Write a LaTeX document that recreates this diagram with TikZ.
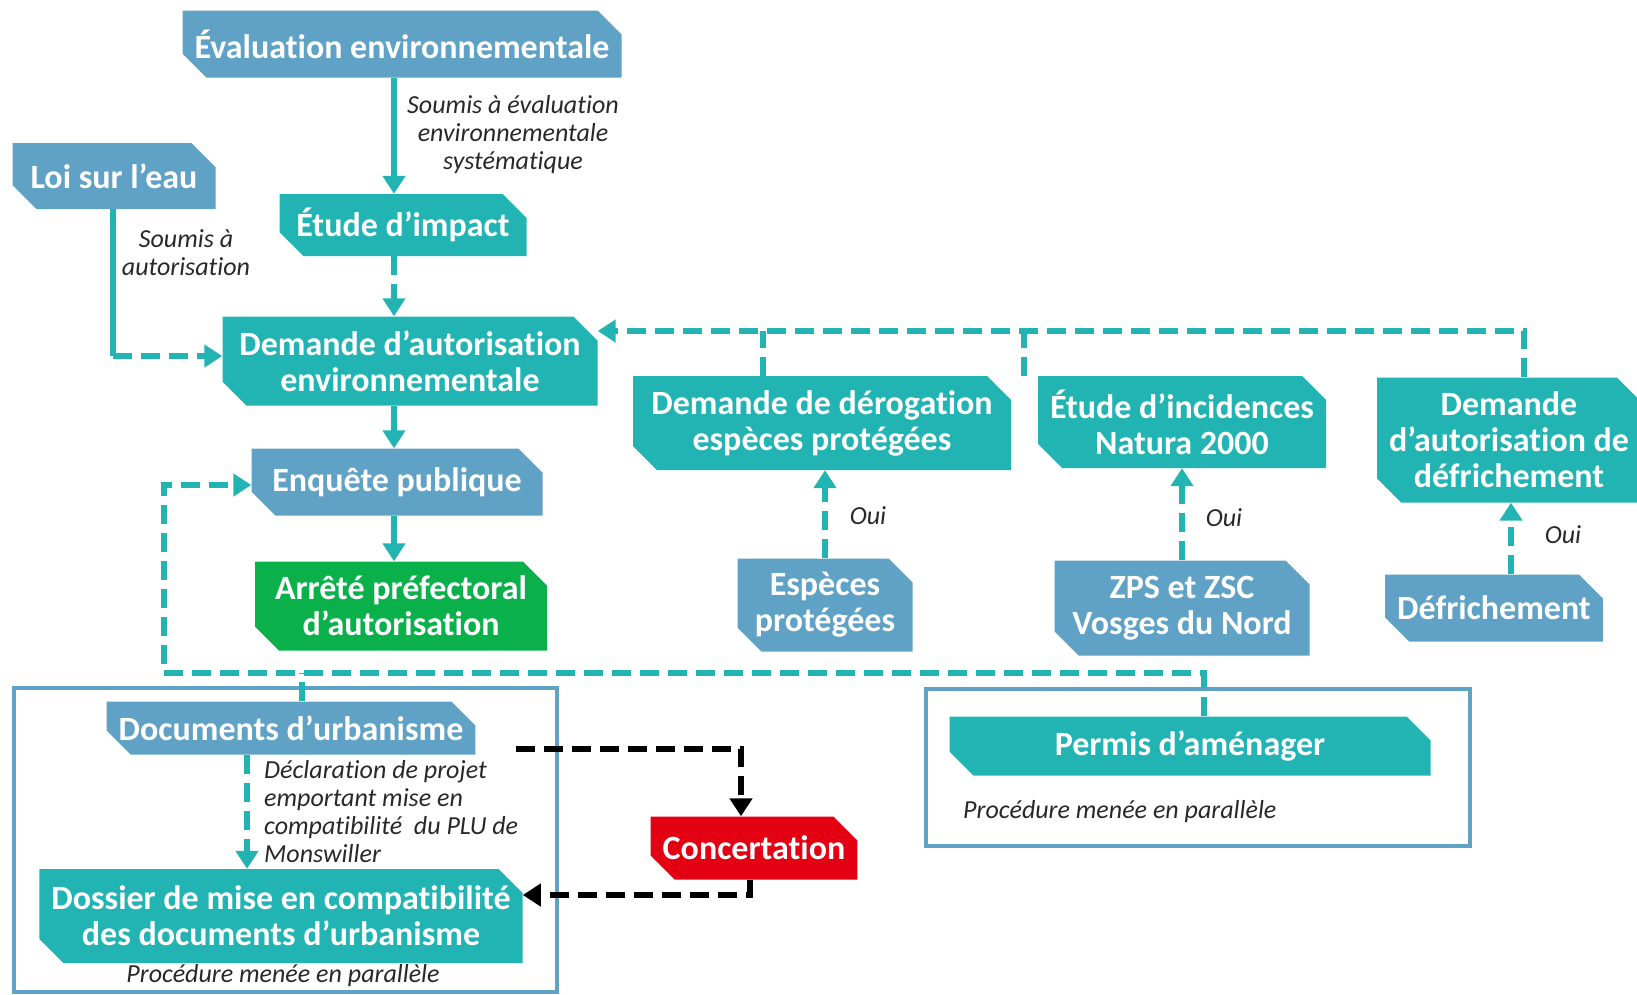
\documentclass[tikz,border=0pt]{standalone}
\usepackage{fontspec}
\setmainfont{Carlito}[Ligatures={NoCommon}]
\usetikzlibrary{shapes.misc,arrows.meta}
\definecolor{bleu}{RGB}{96,161,198}
\definecolor{sarcelle}{RGB}{34,179,179}
\definecolor{vert}{RGB}{10,176,74}
\definecolor{rouge}{RGB}{226,0,18}
\definecolor{texte}{RGB}{40,40,40}
\begin{document}
\begin{tikzpicture}[x=1pt,y=-1pt,
  box/.style={chamfered rectangle,chamfered rectangle corners={north east,south west},
    chamfered rectangle sep=12pt,inner sep=0pt,text=white,align=center,
    font={\fontsize{34}{36}\selectfont\bfseries}},
  bleubox/.style={box,fill=bleu},
  tealbox/.style={box,fill=sarcelle},
  lab/.style={font={\fontsize{26}{28}\selectfont\itshape},text=texte,align=center,inner sep=0pt},
  tealline/.style={draw=sarcelle,line width=6pt},
  dashline/.style={tealline,dash pattern=on 19pt off 9pt},
  blackdash/.style={draw=black,line width=6pt,dash pattern=on 19pt off 9pt},
  tip/.style={-{Triangle[width=22pt,length=18pt]}},
  frame/.style={draw=bleu,line width=3.5pt}]
\useasboundingbox (0,0) rectangle (1637,994);
% cadres des procedures paralleles
\draw[frame] (14,688) rectangle (557,992);
\draw[frame] (926,689) rectangle (1470,846);
% boites
\node[bleubox,minimum width=439,minimum height=67] (eval) at (402,44) {Évaluation environnementale};
\node[bleubox,minimum width=203,minimum height=66] (loi) at (114,176) {Loi sur l’eau};
\node[tealbox,minimum width=247,minimum height=62] (etude) at (403,225) {Étude d’impact};
\node[tealbox,minimum width=375,minimum height=89] (dae) at (410,361) {Demande d’autorisation\\environnementale};
\node[bleubox,minimum width=291,minimum height=67] (enq) at (397,482) {Enquête publique};
\node[box,fill=vert,minimum width=292,minimum height=89] (arrete) at (401,606) {Arrêté préfectoral\\d’autorisation};
\node[tealbox,minimum width=378,minimum height=94] (derog) at (822,423) {Demande de dérogation\\espèces protégées};
\node[tealbox,minimum width=288,minimum height=92] (natura) at (1182,422) {Étude d’incidences\\Natura 2000};
\node[tealbox,minimum width=260,minimum height=125] (defdem) at (1509,440) {Demande\\d’autorisation de\\défrichement};
\node[bleubox,minimum width=175,minimum height=93] (esp) at (825,605) {Espèces\\protégées};
\node[bleubox,minimum width=255,minimum height=95] (zps) at (1182,608) {ZPS et ZSC\\Vosges du Nord};
\node[bleubox,minimum width=199,minimum height=67] (defr) at (1494,608) {Défrichement};
\node[bleubox,minimum width=365,minimum height=53] (docs) at (291,728) {Documents d’urbanisme};
\node[tealbox,minimum width=482,minimum height=94] (dossier) at (281,916) {Dossier de mise en compatibilité\\des documents d’urbanisme};
\node[box,fill=rouge,minimum width=200,minimum height=63] (conc) at (754,848) {Concertation};
\node[tealbox,minimum width=481,minimum height=59] (permis) at (1190,746) {Permis d’aménager};
% textes
\node[lab] (lsoumis) at (513,135) {Soumis à évaluation\\environnementale\\systématique};
\node[lab] (lauto) at (186,253) {Soumis à\\autorisation};
\node[lab] (oui1) at (868,516) {Oui};
\node[lab] (oui2) at (1224,518) {Oui};
\node[lab] (oui3) at (1563,535) {Oui};
\node[lab,anchor=west,align=left] (ldecl) at (264,812) {Déclaration de projet\\emportant mise en\\compatibilité~ du PLU de\\Monswiller};
\node[lab] (lpar1) at (283,976) {Procédure menée en parallèle};
\node[lab,anchor=west] (lpar2) at (963,812) {Procédure menée en parallèle};
% liaisons
\coordinate (col) at (394,0);
\coordinate (haut) at (0,331);
\coordinate (bas) at (164,673);
\coordinate (loic) at (113,356);
\draw[tealline,tip] (eval.south -| col) -- (etude.north -| col);
\draw[dashline,tip] (etude.south -| col) -- (dae.north -| col);
\draw[tealline,tip] (dae.south -| col) -- (enq.north -| col);
\draw[tealline,tip] (enq.south -| col) -- (arrete.north -| col);
\draw[tealline] (loi.south -| loic) -- (loic);
\draw[dashline,tip] (loic) -- (loic -| dae.west);
\draw[dashline,tip] ([xshift=15pt]defdem.north) |- ([yshift=30pt]dae.east);
\draw[dashline] ([xshift=-59pt]derog.north) -- ([xshift=-59pt]derog.north |- haut);
\draw[dashline] ([xshift=-14pt]natura.west |- natura.north) -- ([xshift=-14pt]natura.west |- haut);
\draw[dashline,tip] (esp.north) -- (esp.north |- derog.south);
\draw[dashline,tip] (zps.north) -- (zps.north |- natura.south);
\draw[dashline,tip] ([xshift=17pt]defr.north) -- ([xshift=17pt]defr.north |- defdem.south);
\draw[dashline,tip] ([xshift=14pt]permis.north) |- (bas) |- ([yshift=-3pt]enq.west);
\draw[dashline] ([xshift=11pt]docs.north) -- ([xshift=11pt]docs.north |- bas);
\draw[dashline,tip] ([xshift=-44pt]docs.south) -- ([xshift=-44pt]docs.south |- dossier.north);
\draw[blackdash,tip] ([xshift=40pt,yshift=-21pt]docs.east) -| ([xshift=-13pt]conc.north);
\draw[blackdash,tip] ([xshift=-4pt]conc.south) |- ([yshift=21pt]dossier.east);
\end{tikzpicture}
\end{document}
